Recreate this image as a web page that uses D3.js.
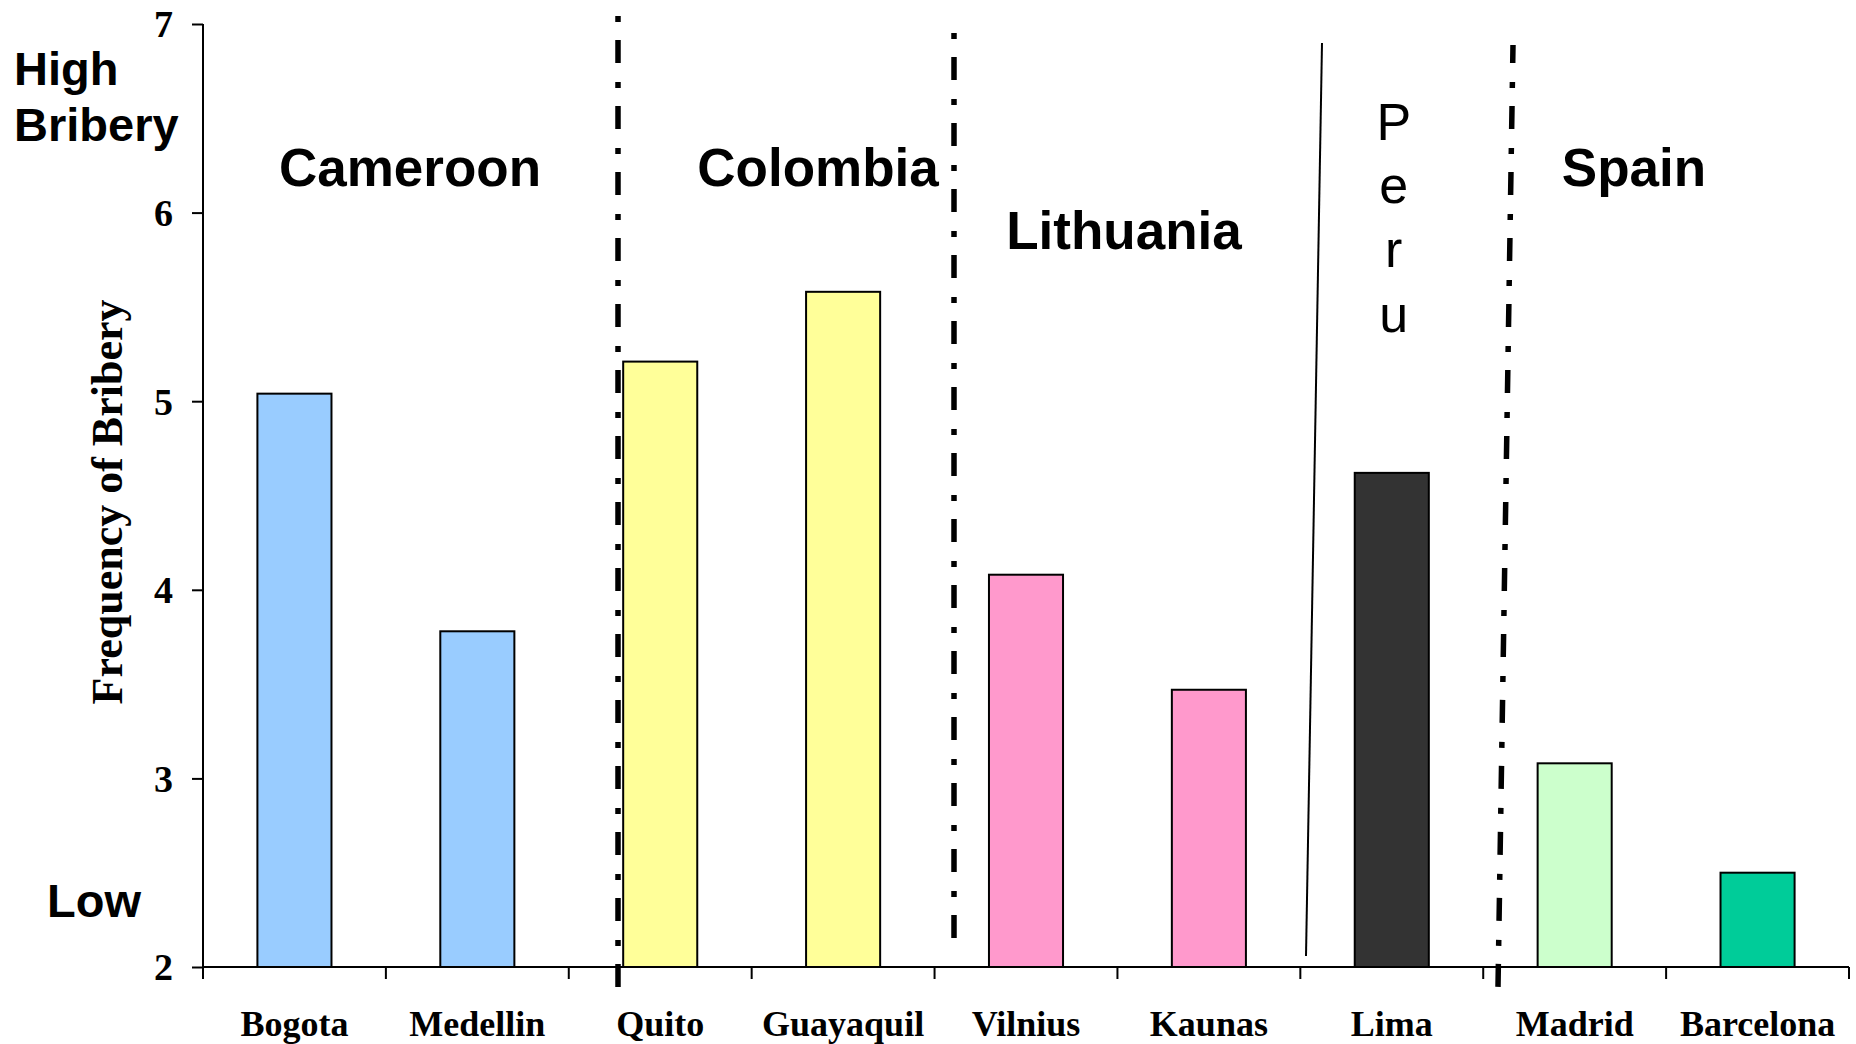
<!DOCTYPE html>
<html>
<head>
<meta charset="utf-8">
<script src="https://cdn.jsdelivr.net/npm/d3@7"></script>
<style>
  html, body { margin: 0; padding: 0; background: #fff; }
  svg { display: block; }
</style>
</head>
<body>
<svg id="chart" width="1856" height="1044"></svg>
<script>
// ---- data ----
const categories = ["Bogota", "Medellin", "Quito", "Guayaquil", "Vilnius", "Kaunas", "Lima", "Madrid", "Barcelona"];
const values = [5.04, 3.78, 5.21, 5.58, 4.08, 3.47, 4.62, 3.08, 2.50];
const barColors = ["#99CCFF", "#99CCFF", "#FFFF99", "#FFFF99", "#FF99CC", "#FF99CC", "#333333", "#CCFFCC", "#00CC99"];
const yTicks = [2, 3, 4, 5, 6, 7];
const countries = ["Cameroon", "Colombia", "Lithuania", "Peru", "Spain"];
const yTitle = "Frequency of Bribery";
const highLabel = ["High", "Bribery"];
const lowLabel = "Low";

// ---- layout ----
const svg = d3.select("#chart");
const plotLeft = 203, plotRight = 1849, plotTop = 24, plotBottom = 967;

const x = d3.scaleBand().domain(categories).range([plotLeft, plotRight])
  .paddingInner(0.595).paddingOuter(0.2975);
const y = d3.scaleLinear().domain([2, 7]).range([plotBottom, plotTop]);

const sans = "'Liberation Sans', Arial, Helvetica, sans-serif";
const serif = "'Liberation Serif', 'Times New Roman', Times, serif";

// bars
svg.append("g").selectAll("rect").data(categories).join("rect")
  .attr("x", d => x(d))
  .attr("width", x.bandwidth())
  .attr("y", (d, i) => y(values[i]))
  .attr("height", (d, i) => y(2) - y(values[i]))
  .attr("fill", (d, i) => barColors[i])
  .attr("stroke", "#000")
  .attr("stroke-width", 2);

// y axis
const yAxis = svg.append("g").attr("transform", `translate(${plotLeft},0)`)
  .call(d3.axisLeft(y).tickValues(yTicks).tickFormat(d3.format("d")).tickSize(11).tickPadding(19));
yAxis.select(".domain").attr("stroke", "#000").attr("stroke-width", 2).attr("d", `M0,${plotTop}V${plotBottom}`);
yAxis.selectAll(".tick line").attr("stroke", "#000").attr("stroke-width", 2);
yAxis.selectAll(".tick text")
  .attr("font-family", serif).attr("font-weight", "bold").attr("font-size", 38).attr("fill", "#000")
  .attr("dy", "0.34em");

// x axis (labels at band centres, ticks at band boundaries)
const step = x.step();
const boundaries = d3.range(categories.length + 1).map(i => plotLeft + i * step);
const xAxis = svg.append("g").attr("transform", `translate(0,${plotBottom})`)
  .call(d3.axisBottom(x).tickSize(0).tickPadding(0));
xAxis.select(".domain").attr("stroke", "#000").attr("stroke-width", 2).attr("d", `M${plotLeft},0H${plotRight}`);
xAxis.selectAll(".tick text")
  .attr("font-family", serif).attr("font-weight", "bold").attr("font-size", 36).attr("fill", "#000")
  .attr("dy", null).attr("y", 69);
xAxis.selectAll(".bt").data(boundaries).join("line").attr("class", "bt")
  .attr("x1", d => d).attr("x2", d => d).attr("y1", 0).attr("y2", 12)
  .attr("stroke", "#000").attr("stroke-width", 2);

// y axis title
svg.append("text")
  .attr("transform", "translate(122,502) rotate(-90)")
  .attr("text-anchor", "middle")
  .attr("font-family", serif).attr("font-weight", "bold").attr("font-size", 44)
  .text(yTitle);

// High / Bribery / Low
svg.append("text").attr("x", 14).attr("y", 85)
  .attr("font-family", sans).attr("font-weight", "bold").attr("font-size", 47).text(highLabel[0]);
svg.append("text").attr("x", 14).attr("y", 141)
  .attr("font-family", sans).attr("font-weight", "bold").attr("font-size", 47).text(highLabel[1]);
svg.append("text").attr("x", 47).attr("y", 917)
  .attr("font-family", sans).attr("font-weight", "bold").attr("font-size", 47).text(lowLabel);

// separator lines
const dashPattern = "6,18,23,19";
const seps = [
  { x1: 618, y1: 16, x2: 618, y2: 987, dash: true, off: 0 },
  { x1: 954, y1: 33, x2: 954, y2: 939, dash: true, off: 0 },
  { x1: 1322, y1: 43, x2: 1306, y2: 956, dash: false, off: 0 },
  { x1: 1513, y1: 45, x2: 1498, y2: 987, dash: true, off: 29 }
];
svg.append("g").selectAll("line").data(seps).join("line")
  .attr("x1", d => d.x1).attr("y1", d => d.y1).attr("x2", d => d.x2).attr("y2", d => d.y2)
  .attr("stroke", "#000")
  .attr("stroke-width", d => d.dash ? 5.5 : 2)
  .attr("stroke-dasharray", d => d.dash ? dashPattern : null)
  .attr("stroke-dashoffset", d => d.off);

// country labels
const countryPos = [
  { x: 410, y: 186 },
  { x: 818, y: 186 },
  { x: 1124, y: 249 },
  null,
  { x: 1634, y: 186 }
];
countries.forEach((c, i) => {
  if (c === "Peru") return;
  svg.append("text").attr("x", countryPos[i].x).attr("y", countryPos[i].y)
    .attr("text-anchor", "middle")
    .attr("font-family", sans).attr("font-weight", "bold").attr("font-size", 53)
    .text(c);
});
// Peru stacked vertically over Lima
const peruX = x("Lima") + x.bandwidth() / 2 + 2;
const peruBase = [140, 203, 267, 332];
svg.append("g").selectAll("text").data(countries[3].split("")).join("text")
  .attr("x", peruX).attr("y", (d, i) => peruBase[i])
  .attr("text-anchor", "middle")
  .attr("font-family", sans).attr("font-size", 52)
  .text(d => d);
</script>
</body>
</html>
